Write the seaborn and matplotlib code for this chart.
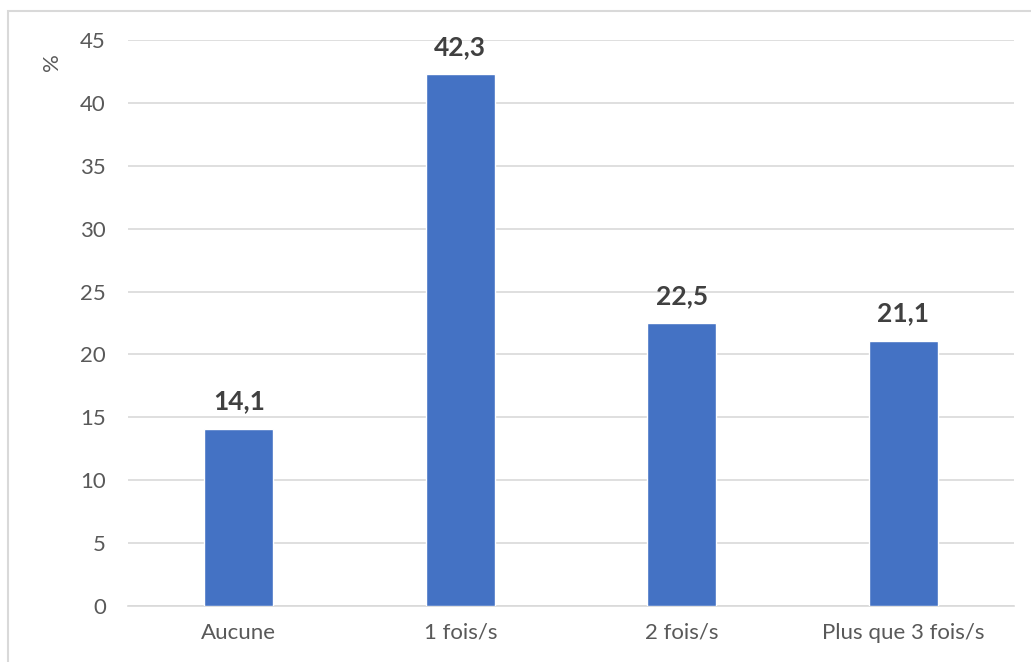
import matplotlib
matplotlib.use("Agg")
import matplotlib.pyplot as plt
import seaborn as sns
import pandas as pd

# values
categories = ["Aucune", "1 fois/s", "2 fois/s", "Plus que 3 fois/s"]
values = [14.1, 42.3, 22.5, 21.1]
labels = ["14,1", "42,3", "22,5", "21,1"]
yticks = [0, 5, 10, 15, 20, 25, 30, 35, 40, 45]

df = pd.DataFrame({"cat": categories, "val": values})

sns.set_style("white")
plt.rcParams["font.family"] = ["Lato", "DejaVu Sans"]

fig = plt.figure(figsize=(10.31, 6.62), dpi=100)
ax = fig.add_axes([128 / 1031, 1 - 606 / 662, 886 / 1031, 566 / 662])

sns.barplot(data=df, x="cat", y="val", color="#4472C4", width=0.31,
            saturation=1, ax=ax, zorder=3)

ax.set_ylim(0, 45)
ax.set_xlim(-0.5, 3.5)
ax.set_yticks(yticks)
ax.yaxis.grid(True, color="#d9d9d9", linewidth=1.2, zorder=0)
ax.set_axisbelow(True)
for s in ["top", "right", "left"]:
    ax.spines[s].set_visible(False)
ax.spines["bottom"].set_color("#d9d9d9")
ax.spines["bottom"].set_linewidth(1.2)
ax.tick_params(axis="both", length=0, labelsize=16, labelcolor="#595959")
ax.tick_params(axis="x", pad=12)
ax.tick_params(axis="y", pad=16)
ax.set_xlabel("")
ax.set_ylabel("")

for i, (v, t) in enumerate(zip(values, labels)):
    ax.annotate(t, (i, v), xytext=(0, 11), textcoords="offset points",
                ha="center", va="bottom", fontsize=19, fontweight="bold",
                color="#404040")

fig.text(52 / 1031, 1 - 62 / 662, "%", rotation=90, ha="center", va="center",
         fontsize=16, color="#595959")

# outer frame of the chart area
frame = plt.Rectangle((7.5 / 1031, -0.1), 1.2, 1 - 10.5 / 662 + 0.1,
                      transform=fig.transFigure, fill=False,
                      edgecolor="#d9d9d9", linewidth=1.5)
fig.patches.append(frame)

fig.savefig("out.png", dpi=100)
